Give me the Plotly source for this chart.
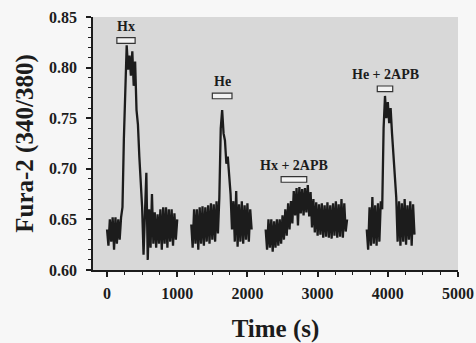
import plotly.graph_objects as go

# ---------------- data ----------------
dt = 20

seg1_start = 0
seg1_ratio = [0.640, 0.624, 0.650, 0.628, 0.652, 0.620, 0.652, 0.626, 0.650, 0.630,
              0.652, 0.662, 0.730, 0.790, 0.822, 0.798, 0.812, 0.792, 0.816, 0.782,
              0.806, 0.758, 0.744, 0.712, 0.688, 0.662, 0.615, 0.665, 0.696, 0.610,
              0.660, 0.622, 0.675, 0.626, 0.657, 0.622, 0.655, 0.626, 0.660, 0.620,
              0.662, 0.626, 0.662, 0.622, 0.660, 0.628, 0.660, 0.624, 0.656, 0.630,
              0.650]

seg2_start = 1200
seg2_ratio = [0.645, 0.622, 0.660, 0.626, 0.660, 0.620, 0.662, 0.626, 0.663, 0.624,
              0.662, 0.628, 0.664, 0.626, 0.666, 0.630, 0.665, 0.628, 0.668, 0.636,
              0.672, 0.740, 0.758, 0.735, 0.728, 0.705, 0.712, 0.690, 0.675, 0.640,
              0.668, 0.628, 0.678, 0.623, 0.665, 0.628, 0.668, 0.626, 0.664, 0.630,
              0.666, 0.628, 0.660, 0.640]

seg3_start = 2260
seg3_ratio = [0.640, 0.620, 0.650, 0.622, 0.650, 0.618, 0.648, 0.622, 0.650, 0.624,
              0.650, 0.626, 0.654, 0.630, 0.660, 0.634, 0.666, 0.640, 0.668, 0.646,
              0.678, 0.654, 0.681, 0.644, 0.682, 0.656, 0.680, 0.654, 0.681, 0.657,
              0.684, 0.653, 0.677, 0.642, 0.670, 0.637, 0.667, 0.634, 0.665, 0.635,
              0.666, 0.632, 0.664, 0.633, 0.667, 0.632, 0.664, 0.631, 0.666, 0.634,
              0.668, 0.632, 0.665, 0.633, 0.670, 0.632, 0.666, 0.638, 0.650]

seg4_start = 3700
seg4_ratio = [0.640, 0.620, 0.662, 0.624, 0.672, 0.626, 0.664, 0.624, 0.666, 0.628,
              0.668, 0.660, 0.740, 0.772, 0.750, 0.766, 0.745, 0.760, 0.735, 0.712,
              0.695, 0.672, 0.628, 0.668, 0.624, 0.666, 0.628, 0.670, 0.625, 0.664,
              0.630, 0.668, 0.624, 0.665, 0.635]

segments = [(seg1_start, seg1_ratio), (seg2_start, seg2_ratio),
            (seg3_start, seg3_ratio), (seg4_start, seg4_ratio)]

# stimulus application bars
stim_labels = ["Hx", "He", "Hx + 2APB", "He + 2APB"]
stim_start = [140, 1500, 2480, 3850]
stim_end = [400, 1780, 2845, 4070]
stim_level = [0.8268, 0.772, 0.6895, 0.779]

x_ticks = [0, 1000, 2000, 3000, 4000, 5000]
y_ticks = [0.60, 0.65, 0.70, 0.75, 0.80, 0.85]

# ---------------- figure ----------------
SERIF = "Liberation Serif"
INK = "#1c1c1c"

fig = go.Figure()
for start, vals in segments:
    t = [start + i * dt for i in range(len(vals))]
    fig.add_trace(go.Scatter(x=t, y=vals, mode="lines",
                             line=dict(color=INK, width=2.3),
                             showlegend=False, hoverinfo="skip"))

half_h = 0.0028
for lab, s, e, lv in zip(stim_labels, stim_start, stim_end, stim_level):
    fig.add_shape(type="rect", xref="x", yref="y", x0=s, x1=e,
                  y0=lv - half_h, y1=lv + half_h,
                  line=dict(color="#333333", width=1.2), fillcolor="#f2f2f2")
    fig.add_annotation(x=(s + e) / 2, y=lv + half_h, xref="x", yref="y",
                       text=lab, showarrow=False, yanchor="bottom", yshift=2,
                       font=dict(family=SERIF, size=14, color=INK, weight="bold"))

axis_common = dict(showline=True, linecolor=INK, linewidth=1.5, ticks="outside",
                   tickcolor=INK, tickwidth=1.5, ticklen=5, showgrid=False,
                   zeroline=False, mirror=False, automargin=False)

fig.update_layout(
    width=476, height=343,
    margin=dict(l=93, r=18, t=17, b=73),
    paper_bgcolor="#f7f7f7", plot_bgcolor="#d8d8d8",
    xaxis=dict(range=[-200, 5000], tickvals=x_ticks,
               ticktext=[str(v) for v in x_ticks],
               tickfont=dict(family=SERIF, size=16, color=INK, weight="bold"),
               minor=dict(dtick=250, ticks="outside", ticklen=3, tickcolor=INK, tickwidth=1),
               title=dict(text="Time (s)", standoff=19,
                          font=dict(family=SERIF, size=25, color=INK, weight="bold")),
               ticklabelstandoff=3,
               **axis_common),
    yaxis=dict(range=[0.60, 0.85], tickvals=y_ticks,
               ticktext=[f"{v:.2f}" for v in y_ticks],
               tickfont=dict(family=SERIF, size=16, color=INK, weight="bold"),
               minor=dict(dtick=0.01, ticks="outside", ticklen=3, tickcolor=INK, tickwidth=1),
               title=dict(text="Fura-2 (340/380)", standoff=8,
                          font=dict(family=SERIF, size=25, color=INK, weight="bold")),
               ticklabelstandoff=6,
               **axis_common),
)

fig.write_html("out.html")
